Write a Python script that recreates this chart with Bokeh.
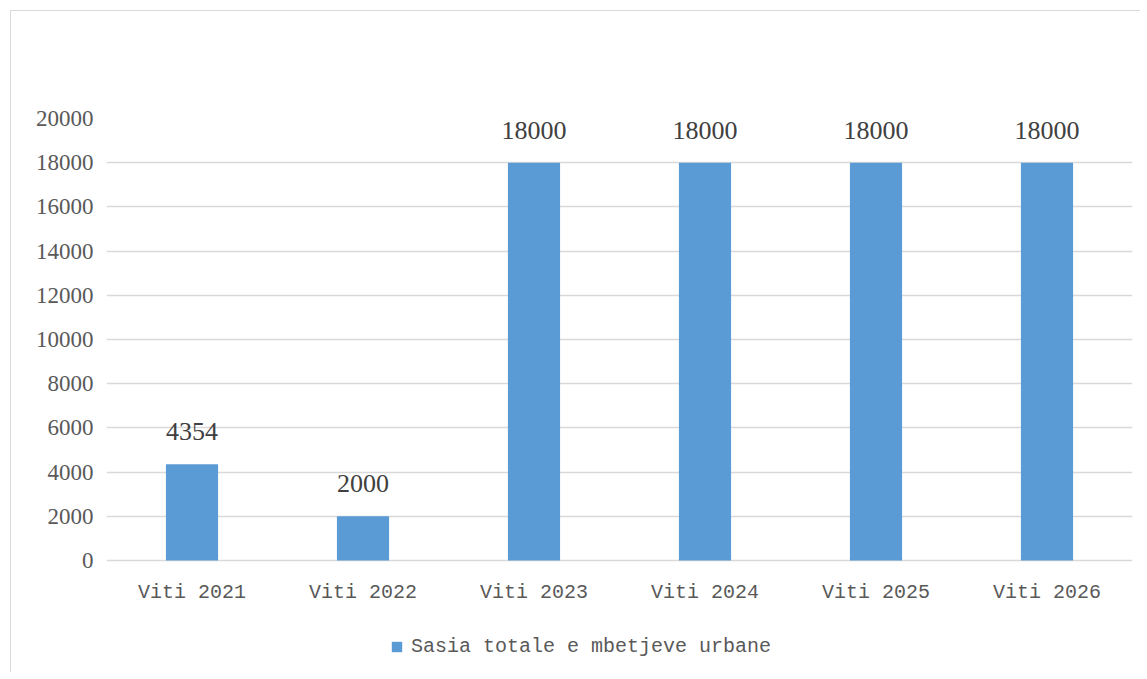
from bokeh.plotting import figure
from bokeh.models import ColumnDataSource, LabelSet, Legend, LegendItem, FactorRange, Range1d, FixedTicker
from bokeh.core.properties import value
from bokeh.embed import file_html
from bokeh.resources import INLINE

categories = ["Viti 2021", "Viti 2022", "Viti 2023", "Viti 2024", "Viti 2025", "Viti 2026"]
values = [4354, 2000, 18000, 18000, 18000, 18000]
y_ticks = [0, 2000, 4000, 6000, 8000, 10000, 12000, 14000, 16000, 18000, 20000]
series_name = "Sasia totale e mbetjeve urbane"

src = ColumnDataSource(dict(cat=categories, val=values, lbl=[str(v) for v in values],
                            base=[0] * len(categories)))

# frame spans from the 20000 gridline down to the figure bottom, so the legend below
# the plot area is drawn inside the frame; 0 stays at 442 px below the top gridline
px_per_unit = 442 / 20000
extra_px = 112
y_min = -extra_px / px_per_unit

p = figure(x_range=FactorRange(*categories, range_padding=0), y_range=Range1d(y_min, 20000),
           width=1140, height=672, output_backend="svg", toolbar_location=None,
           min_border_left=106, min_border_right=8, min_border_top=118, min_border_bottom=0,
           styles={"background-image": "linear-gradient(#d9d9d9,#d9d9d9), linear-gradient(#d9d9d9,#d9d9d9)",
                   "background-size": "1px 100%, 100% 1px",
                   "background-position": "10px 10px, 10px 10px",
                   "background-repeat": "no-repeat"})
p.frame_width = 1026
p.frame_height = 442 + extra_px
p.outline_line_color = None
p.background_fill_alpha = 0
p.border_fill_alpha = 0

r = p.vbar(x="cat", top="val", width=0.305, source=src, fill_color="#5B9BD5", line_color=None)

p.xaxis.visible = False
p.yaxis.ticker = FixedTicker(ticks=y_ticks)
p.ygrid.grid_line_color = "#d9d9d9"
p.ygrid.grid_line_width = 1.5
p.xgrid.grid_line_color = None
ax = p.yaxis[0]
ax.axis_line_color = None
ax.major_tick_line_color = None
ax.minor_tick_line_color = None
ax.major_tick_out = 0
ax.major_tick_in = 0
ax.major_label_text_color = "#595959"
ax.major_label_text_font = "Liberation Serif"
ax.major_label_text_font_size = "23px"
ax.major_label_standoff = 13

cat_labels = LabelSet(x="cat", y="base", text="cat", source=src, text_align="center",
                      text_baseline="top", y_offset=-20, text_font=value("Liberation Mono"),
                      text_font_size=value("20px"), text_color="#595959")
p.add_layout(cat_labels)

labels = LabelSet(x="cat", y="val", text="lbl", source=src, text_align="center",
                  text_baseline="bottom", y_offset=24, text_font=value("Liberation Serif"),
                  text_font_size=value("26px"), text_color="#404040")
p.add_layout(labels)

legend = Legend(items=[LegendItem(label=series_name, renderers=[r])],
                location=(284, 14), orientation="horizontal", margin=0, padding=10,
                label_text_font="Liberation Mono", label_text_font_size="20px",
                label_text_color="#595959", glyph_width=13, glyph_height=13,
                border_line_color=None, background_fill_alpha=0, label_standoff=8)
p.add_layout(legend, "center")

open("out.html", "w").write(file_html(p, INLINE))
